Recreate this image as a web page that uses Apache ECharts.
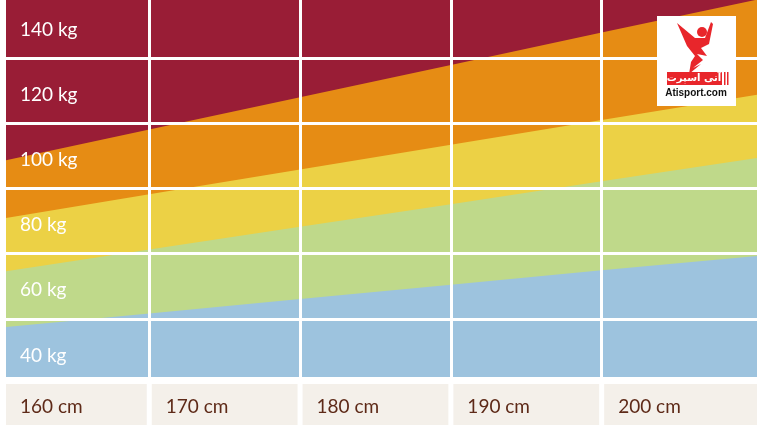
<!DOCTYPE html>
<html><head><meta charset="utf-8">
<script src="https://cdn.jsdelivr.net/npm/echarts@6/dist/echarts.min.js"></script>
<style>html,body{margin:0;padding:0;background:#fff}#c{width:763px;height:438px}</style>
</head><body><div id="c"></div>
<script>
// Heights (cm) at which the band boundaries are read (last = right edge of chart)
const heights = [160, 170, 180, 190, 200, 211];
// Bottom row tick labels
const heightLabels = ['160 cm', '170 cm', '180 cm', '190 cm', '200 cm'];
const labelHeights = [160, 170, 180, 190, 200, 210.3];
// Row labels (kg)
const weightLabels = [40, 60, 80, 100, 120, 140];
// Upper boundary (kg) of each band at the heights above
const blueTop   = [47.3, 51.7, 56.1, 60.5, 64.9, 69.6];
const greenTop  = [64.3, 71.3, 78.3, 85.2, 92.2, 99.8];
const yellowTop = [80.6, 88.2, 95.8, 103.4, 111.0, 119.3];
const orangeTop = [98.2, 108.1, 118.0, 127.9, 137.8, 148.6];
// Cell borders
const gridX = [170, 180, 190, 200];
const gridY = [50, 70, 90, 110, 130];

const X_MIN = 160.5, X_MAX = 210.3, Y_MIN = 32.2, Y_MAX = 147.8;
const FONT = 'Lato, "Open Sans", sans-serif';

const chart = echarts.init(document.getElementById('c'), null, {renderer: 'canvas'});

function band(name, vals, color, z) {
  return {
    name, type: 'line', z,
    data: heights.map((h, i) => [h, vals[i]]),
    showSymbol: false, symbol: 'none', silent: true,
    lineStyle: {width: 0},
    areaStyle: {color, opacity: 1, origin: 'start'},
    animation: false
  };
}

const cellData = heightLabels.map((t, i) => [labelHeights[i], labelHeights[i + 1], t]);

const option = {
  animation: false,
  grid: {left: 6, right: 6, top: 0, height: 377, show: true, backgroundColor: '#991d36', borderWidth: 0},
  xAxis: {type: 'value', min: X_MIN, max: X_MAX, show: true,
    axisLine: {show: false}, axisTick: {show: false}, axisLabel: {show: false}, splitLine: {show: false}},
  yAxis: {type: 'value', min: Y_MIN, max: Y_MAX, z: 20,
    axisLine: {show: false}, axisTick: {show: false}, splitLine: {show: false},
    axisLabel: {inside: true, customValues: weightLabels, formatter: '{a|{value} kg}',
      margin: 14, verticalAlign: 'middle',
      rich: {a: {color: '#ffffff', fontFamily: FONT, fontSize: 19, padding: [8, 0, 0, 0]}}}},
  series: [
    band('orange', orangeTop, '#e68c14', 2),
    band('yellow', yellowTop, '#ecd145', 3),
    band('green', greenTop, '#bfd98a', 4),
    band('blue', blueTop, '#9dc3de', 5),
    {
      type: 'line', z: 8, data: [], silent: true,
      markLine: {
        silent: true, symbol: 'none', animation: false, z: 8,
        label: {show: false},
        lineStyle: {color: '#ffffff', width: 3, type: 'solid'},
        data: gridX.map(v => ({xAxis: v})).concat(gridY.map(v => ({yAxis: v})))
      }
    },
    {
      type: 'custom', z: 6, clip: false, silent: true,
      dimensions: ['from', 'to', 'label'],
      encode: {x: [0, 1]},
      data: cellData,
      renderItem(params, api) {
        const cs = params.coordSys;
        let x0 = api.coord([api.value(0), 100])[0];
        let x1 = api.coord([api.value(1), 100])[0];
        x0 = Math.max(x0, cs.x); x1 = Math.min(x1, cs.x + cs.width);
        const n = cellData.length;
        const l = params.dataIndex === 0 ? x0 : x0 + 2.5;
        const r = params.dataIndex === n - 1 ? x1 : x1 - 2.5;
        const top = cs.y + cs.height + 7;
        return {
          type: 'group',
          children: [
            {type: 'rect', shape: {x: l, y: top, width: r - l, height: 41}, style: {fill: '#f4f0ea'}},
            {type: 'text', style: {x: l + 14, y: top + 23, text: cellData[params.dataIndex][2],
              fill: '#5e2a18', font: '19px ' + FONT, textVerticalAlign: 'middle', textAlign: 'left'}}
          ]
        };
      }
    }
  ],
  graphic: [{
    type: 'group', left: 657, top: 16, z: 100,
    children: [
      {type: 'rect', z: 100, shape: {x: 0, y: 0, width: 79, height: 90}, style: {fill: '#ffffff'}},
      {type: 'circle', z: 101, shape: {cx: 45, cy: 16, r: 5}, style: {fill: '#e8262b'}},
      {type: 'polygon', z: 101, shape: {points: [[20, 7], [38, 22], [48, 22], [54, 6], [56, 8], [52, 28], [44, 32], [50, 40], [40, 38], [46, 44], [36, 52], [44, 48], [32, 58], [34, 46], [38, 40], [30, 30]]}, style: {fill: '#e8262b'}},
      {type: 'rect', z: 101, shape: {x: 10, y: 56, width: 55, height: 13}, style: {fill: '#e8262b'}},
      {type: 'rect', z: 101, shape: {x: 67, y: 56, width: 1.5, height: 13}, style: {fill: '#e8262b'}},
      {type: 'rect', z: 101, shape: {x: 70, y: 56, width: 1.5, height: 13}, style: {fill: '#e8262b'}},
      {type: 'text', z: 102, style: {x: 37, y: 62.5, text: 'آتی اسپرت', fill: '#ffffff', font: 'bold 10px "DejaVu Sans", sans-serif', textAlign: 'center', textVerticalAlign: 'middle'}},
      {type: 'text', z: 102, style: {x: 39, y: 77, text: 'Atisport.com', fill: '#111111', font: 'bold 10px "Liberation Sans", Arial, sans-serif', textAlign: 'center', textVerticalAlign: 'middle'}}
    ]
  }]
};
chart.setOption(option);
</script>
</body></html>
